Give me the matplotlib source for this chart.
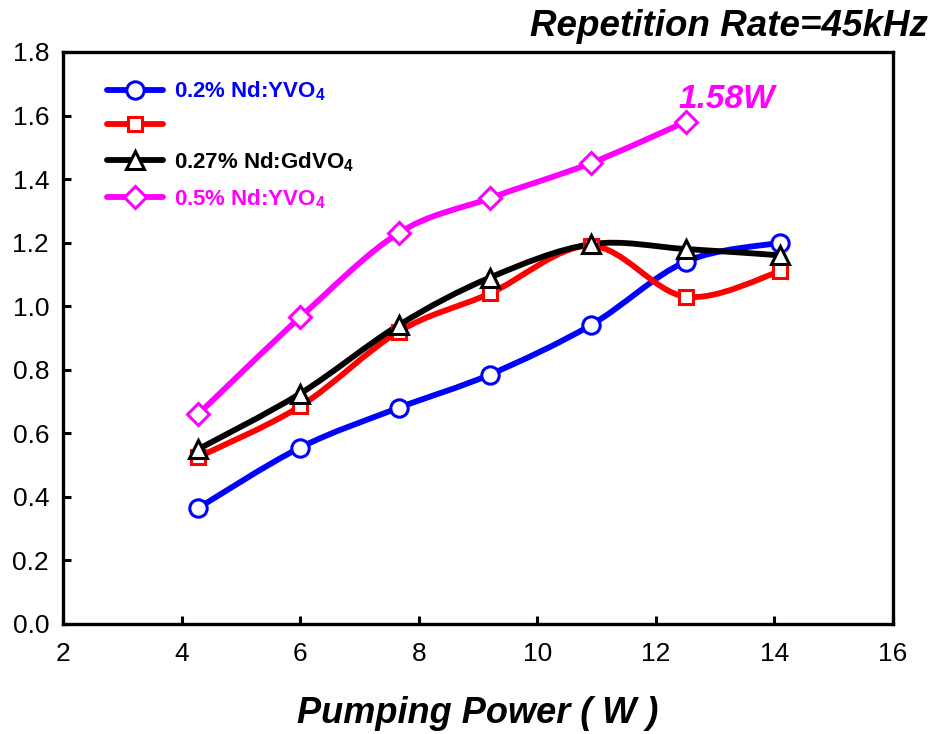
import numpy as np
import matplotlib
matplotlib.use('Agg')
from matplotlib import pyplot as plt
from matplotlib.path import Path
from matplotlib.patches import PathPatch
from matplotlib.lines import Line2D

plt.rcParams['font.family'] = ['Liberation Sans', 'DejaVu Sans']
plt.rcParams['mathtext.fontset'] = 'custom'
plt.rcParams['mathtext.rm'] = 'Liberation Sans'
plt.rcParams['mathtext.bf'] = 'Liberation Sans:bold'

# pump power (W)
pump = [4.28, 6.0, 7.66, 9.2, 10.9, 12.5, 14.1]
pump_05 = [4.28, 6.0, 7.66, 9.2, 10.9, 12.5]

# average output power (W)
p_02_yvo4 = [0.365, 0.555, 0.68, 0.785, 0.94, 1.14, 1.20]
p_red = [0.525, 0.685, 0.92, 1.04, 1.19, 1.03, 1.11]
p_027_gdvo4 = [0.55, 0.725, 0.94, 1.09, 1.195, 1.18, 1.16]
p_05_yvo4 = [0.66, 0.965, 1.23, 1.34, 1.45, 1.58]

labels = [r'0.2% Nd:YVO$_\mathbf{4}$', ' ',
          r'0.27% Nd:GdVO$_\mathbf{4}$', r'0.5% Nd:YVO$_\mathbf{4}$']


def smooth_path(x, y):
    # excel-like smoothed line: cubic bezier through each point
    p = np.column_stack([x, y]).astype(float)
    ext = np.vstack([p[0], p, p[-1]])
    verts = [p[0]]
    codes = [Path.MOVETO]
    for i in range(len(p) - 1):
        c1 = ext[i + 1] + (ext[i + 2] - ext[i]) / 6.0
        c2 = ext[i + 2] - (ext[i + 3] - ext[i + 1]) / 6.0
        verts += [c1, c2, p[i + 1]]
        codes += [Path.CURVE4] * 3
    return Path(verts, codes)


def main():
    fig = plt.figure(figsize=(9.32, 7.34), dpi=100)
    ax = fig.add_axes([0.0676, 0.1499, 0.8906, 0.7793])

    series = [
        (pump, p_02_yvo4, '#0000ff', 'o', 12.5),
        (pump, p_red, '#ff0000', 's', 10.5),
        (pump, p_027_gdvo4, '#000000', '^', 13),
        (pump_05, p_05_yvo4, '#ff00ff', 'D', 11),
    ]

    handles = []
    for (x, y, c, m, ms) in series:
        ax.add_patch(PathPatch(smooth_path(x, y), fill=False, edgecolor=c,
                               lw=4.2, capstyle='round', joinstyle='round', zorder=2))
        ax.plot(x, y, ls='none', marker=m, ms=ms, mfc='white', mec=c, mew=2.2, zorder=3)
        handles.append(Line2D([], [], color=c, lw=4.2, marker=m, ms=ms,
                              mfc='white', mec=c, mew=2.2, solid_capstyle='round'))

    ax.set_xlim(2, 16)
    ax.set_ylim(0, 1.8)
    ax.set_xticks(np.arange(2, 17, 2))
    ax.set_yticks(np.arange(0, 1.81, 0.2))
    ax.set_yticklabels(['%.1f' % v for v in np.arange(0, 1.81, 0.2)])

    for s in ax.spines.values():
        s.set_linewidth(2.4)
    ax.tick_params(direction='in', length=6, width=2.2, labelsize=19)
    ax.tick_params(axis='x', pad=13)
    ax.tick_params(axis='y', pad=10)

    fig.text(0.513, 0.015, 'Pumping Power ( W )', fontsize=26, fontweight='bold',
             fontstyle='italic', ha='center', va='baseline')

    ax.text(12.38, 1.623, '1.58W', color='#ff00ff', fontsize=24,
            fontweight='bold', fontstyle='italic', ha='left', va='baseline')

    fig.text(0.996, 0.951, 'Repetition Rate=45kHz', fontsize=26.5,
             fontweight='bold', fontstyle='italic', ha='right', va='baseline')

    ax.legend(handles, labels, loc='upper left', bbox_to_anchor=(0.053, 0.952),
              frameon=False, borderpad=0, borderaxespad=0, handlelength=2.5,
              handletextpad=0.5, labelspacing=0.59, labelcolor='linecolor',
              prop={'size': 16, 'weight': 'bold'})

    fig.savefig('out.png', dpi=100)


if __name__ == '__main__':
    main()
